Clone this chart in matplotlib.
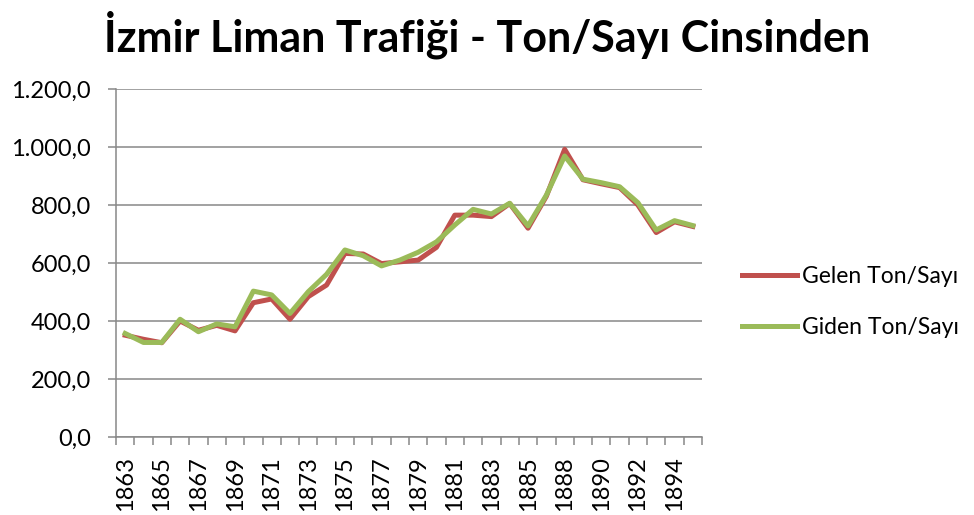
import matplotlib
matplotlib.use("Agg")
import matplotlib.pyplot as plt
from matplotlib.ticker import FuncFormatter

plt.rcParams['font.family'] = ['Lato', 'DejaVu Sans']

years = list(range(1863, 1887)) + list(range(1888, 1896))
gelen = [351, 337, 325, 400, 368, 385, 366, 463, 476, 406, 484, 524,
         633, 631, 598, 604, 610, 654, 765, 765, 760, 805, 720, 830,
         992, 887, 873, 860, 800, 705, 742, 726]
giden = [357, 326, 326, 406, 363, 390, 380, 503, 490, 426, 501, 561,
         645, 625, 590, 610, 637, 673, 731, 785, 769, 806, 728, 834,
         969, 889, 877, 863, 808, 714, 746, 729]
title = "İzmir Liman Trafiği - Ton/Sayı Cinsinden"

def tr_format(v, pos):
    s = "{:,.1f}".format(v)
    return s.replace(",", "X").replace(".", ",").replace("X", ".")

fig = plt.figure(figsize=(9.74, 5.15), dpi=100)
ax = fig.add_axes([116/974, 1-437/515, (702-116)/974, (437-89)/515])

x = list(range(len(years)))
ax.plot(x, gelen, color="#C0504D", linewidth=3.6, label="Gelen Ton/Sayı", solid_joinstyle="round")
ax.plot(x, giden, color="#9BBB59", linewidth=3.6, label="Giden Ton/Sayı", solid_joinstyle="round")

ax.set_ylim(0, 1200)
ax.set_yticks(range(0, 1201, 200))
ax.yaxis.set_major_formatter(FuncFormatter(tr_format))
ax.grid(axis="y", color="#888888", linewidth=1.1)
ax.set_axisbelow(True)

ax.set_xlim(-0.5, len(years) - 0.5)
ax.set_xticks([i - 0.5 for i in range(len(years) + 1)])
ax.set_xticklabels([])
ax.set_xticks(x[::2], minor=True)
ax.set_xticklabels([str(y) for y in years[::2]], minor=True, rotation=90, fontsize=17)
ax.tick_params(axis="x", which="major", length=6, color="#888888", width=1.1)
ax.tick_params(axis="x", which="minor", length=0, pad=14)
ax.tick_params(axis="y", length=6, color="#888888", width=1.1, labelsize=17, pad=12)

for side in ["top", "right"]:
    ax.spines[side].set_visible(False)
for side in ["left", "bottom"]:
    ax.spines[side].set_color("#888888")
    ax.spines[side].set_linewidth(1.1)

fig.suptitle(title, fontsize=31, fontweight="bold", y=0.98)
fig.legend(loc="center left", bbox_to_anchor=(742/974, 1-302/515), frameon=False,
           fontsize=16.5, labelspacing=1.35, handlelength=2.4, handletextpad=0.2,
           borderpad=0, borderaxespad=0)

fig.savefig("out.png", dpi=100)
